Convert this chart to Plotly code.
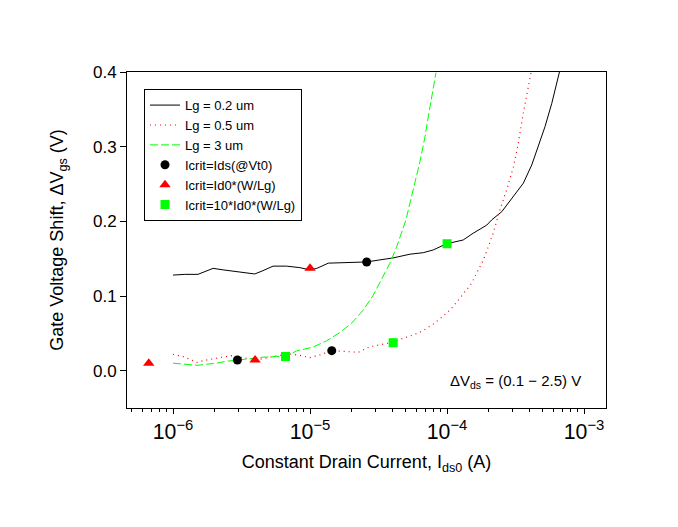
import plotly.graph_objects as go

# Lg = 0.2 um (black solid)
x_02 = [1.00e-6, 1.22e-6, 1.52e-6, 1.75e-6, 1.96e-6, 2.32e-6, 2.74e-6, 3.44e-6, 3.95e-6,
        4.54e-6, 5.37e-6, 6.73e-6, 8.42e-6, 9.97e-6, 1.12e-5, 1.36e-5, 2.01e-5, 2.59e-5,
        3.14e-5, 4.04e-5, 5.36e-5, 6.70e-5, 7.93e-5, 9.93e-5, 1.31e-4, 1.55e-4, 1.95e-4,
        2.12e-4, 2.51e-4, 3.05e-4, 3.60e-4, 4.15e-4, 4.64e-4, 5.19e-4, 5.81e-4, 6.32e-4, 6.61e-4]
y_02 = [0.128, 0.129, 0.129, 0.133, 0.137, 0.135, 0.133, 0.131, 0.1295,
        0.134, 0.140, 0.140, 0.138, 0.135, 0.137, 0.144, 0.1447, 0.1456,
        0.148, 0.151, 0.156, 0.158, 0.1617, 0.170, 0.175, 0.184, 0.195,
        0.202, 0.213, 0.233, 0.251, 0.2755, 0.300, 0.327, 0.358, 0.385, 0.400]

# Lg = 0.5 um (red dotted)
x_05 = [1.00e-6, 1.18e-6, 1.36e-6, 1.50e-6, 1.66e-6, 1.91e-6, 2.26e-6, 2.67e-6, 3.44e-6,
        4.30e-6, 5.37e-6, 7.11e-6, 8.42e-6, 9.97e-6, 1.18e-5, 1.44e-5, 1.85e-5, 2.25e-5,
        2.73e-5, 3.42e-5, 4.04e-5, 4.79e-5, 5.66e-5, 6.70e-5, 7.93e-5, 9.38e-5, 1.08e-4,
        1.24e-4, 1.39e-4, 1.51e-4, 1.64e-4, 1.84e-4, 2.00e-4, 2.17e-4, 2.43e-4, 2.72e-4,
        3.05e-4, 3.31e-4, 3.60e-4, 3.85e-4, 4.10e-4]
y_05 = [0.022, 0.019, 0.0143, 0.011, 0.0134, 0.0157, 0.018, 0.020, 0.0166,
        0.0153, 0.019, 0.0224, 0.0206, 0.0174, 0.021, 0.0268, 0.0254, 0.0246,
        0.032, 0.0358, 0.038, 0.0434, 0.0478, 0.0536, 0.0625, 0.073, 0.0836,
        0.097, 0.108, 0.117, 0.1304, 0.148, 0.166, 0.184, 0.215, 0.242,
        0.273, 0.3045, 0.345, 0.371, 0.399]

# Lg = 3 um (green dashed)
x_3 = [1.00e-6, 1.25e-6, 1.52e-6, 1.75e-6, 2.08e-6, 2.45e-6, 2.90e-6, 3.63e-6, 4.54e-6,
       5.69e-6, 6.62e-6, 7.96e-6, 1.05e-5, 1.32e-5, 1.65e-5, 2.01e-5, 2.44e-5, 2.89e-5,
       3.42e-5, 3.83e-5, 4.29e-5, 4.66e-5, 5.01e-5, 6.34e-5, 6.90e-5, 7.29e-5, 7.72e-5, 8.30e-5]
y_3 = [0.010, 0.0086, 0.0072, 0.0086, 0.010, 0.0126, 0.0143, 0.0157, 0.018,
       0.019, 0.019, 0.0264, 0.0315, 0.040, 0.051, 0.0635, 0.081, 0.101,
       0.126, 0.144, 0.166, 0.184, 0.202, 0.280, 0.313, 0.340, 0.367, 0.399]

# Critical-current markers
x_circ = [2.95e-6, 1.44e-5, 2.59e-5]
y_circ = [0.0143, 0.0268, 0.1456]
x_tri = [6.65e-7, 3.97e-6, 1.00e-5]
y_tri = [0.010, 0.0143, 0.137]
x_sq = [6.62e-6, 4.04e-5, 1.00e-4]
y_sq = [0.019, 0.0375, 0.170]

names = ["Lg = 0.2 um", "Lg = 0.5 um", "Lg = 3 um",
         "Icrit=Ids(@Vt0)", "Icrit=Id0*(W/Lg)", "Icrit=10*Id0*(W/Lg)"]

FONT = "Arial, Liberation Sans, sans-serif"

fig = go.Figure()
fig.add_trace(go.Scatter(x=x_02, y=y_02, mode="lines", name=names[0],
                         line=dict(color="black", width=1)))
fig.add_trace(go.Scatter(x=x_05, y=y_05, mode="lines", name=names[1],
                         line=dict(color="red", width=1.2, dash="1px,4px")))
fig.add_trace(go.Scatter(x=x_3, y=y_3, mode="lines", name=names[2],
                         line=dict(color="#00ff00", width=1, dash="8px,3px")))
fig.add_trace(go.Scatter(x=x_circ, y=y_circ, mode="markers", name=names[3],
                         marker=dict(symbol="circle", color="black", size=9)))
fig.add_trace(go.Scatter(x=x_tri, y=y_tri, mode="markers", name=names[4],
                         marker=dict(symbol="triangle-up", color="red", size=10)))
fig.add_trace(go.Scatter(x=x_sq, y=y_sq, mode="markers", name=names[5],
                         marker=dict(symbol="square", color="#00ff00", size=9)))

fig.update_layout(
    width=678, height=527,
    margin=dict(l=119, r=80, t=64, b=127),
    paper_bgcolor="white", plot_bgcolor="white",
    font=dict(family=FONT, color="black"),
    showlegend=True,
    legend=dict(x=0.0355, y=0.949, xanchor="left", yanchor="top",
                bordercolor="black", borderwidth=1, bgcolor="white",
                font=dict(size=13, family=FONT), tracegroupgap=0,
                itemwidth=30),
    annotations=[dict(xref="paper", yref="paper", x=0.952, y=0.080,
                      xanchor="right", yanchor="middle", showarrow=False,
                      text="ΔV<sub>ds</sub> = (0.1 − 2.5) V",
                      font=dict(size=15, family=FONT))],
)

fig.update_xaxes(
    type="log", range=[-6.336, -2.84],
    showgrid=False, zeroline=False,
    showline=True, linecolor="black", linewidth=1, mirror=True,
    ticks="outside", ticklen=5, tickcolor="black",
    dtick=1, exponentformat="power",
    tickfont=dict(size=17, family=FONT),
    minor=dict(ticks="outside", ticklen=3, tickcolor="black", dtick="D1", showgrid=False),
    title=dict(text="Constant Drain Current, I<sub>ds0</sub> (A)",
               font=dict(size=18, family=FONT), standoff=12),
)
fig.update_yaxes(
    range=[-0.05, 0.4],
    showgrid=False, zeroline=False,
    showline=True, linecolor="black", linewidth=1, mirror=True,
    ticks="outside", ticklen=6, tickcolor="black",
    tick0=0, dtick=0.1, tickformat=".1f",
    tickfont=dict(size=17, family=FONT),
    title=dict(text="Gate Voltage Shift, ΔV<sub>gs</sub> (V)",
               font=dict(size=18, family=FONT), standoff=24),
)

fig.write_html("out.html")
